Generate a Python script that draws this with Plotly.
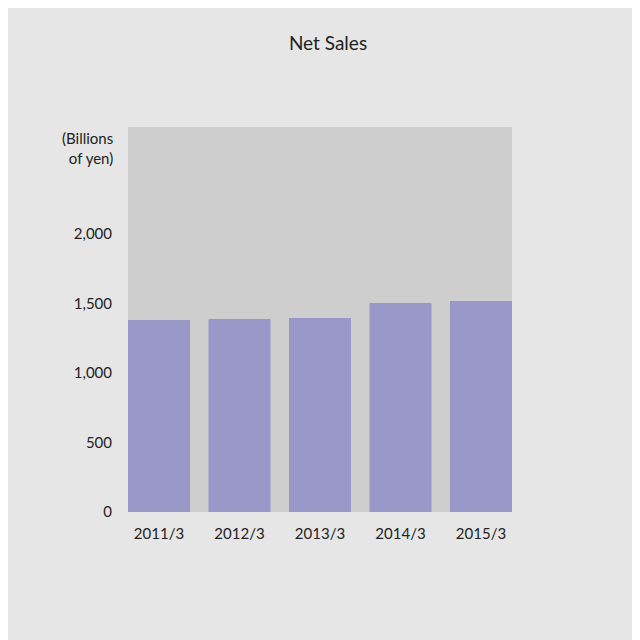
import plotly.graph_objects as go

categories = ["2011/3", "2012/3", "2013/3", "2014/3", "2015/3"]
net_sales = [1381, 1388, 1396, 1504, 1518]
tick_vals = [0, 500, 1000, 1500, 2000]
tick_text = ["0", "500", "1,000", "1,500", "2,000"]

fig = go.Figure(go.Bar(x=list(range(len(categories))), y=net_sales,
                       width=0.77, marker_color="#9a98c8", marker_line_width=0,
                       hoverinfo="skip"))
fig.update_layout(
    width=640, height=640,
    margin=dict(l=120, r=136, t=119, b=136),
    paper_bgcolor="#e6e6e6", plot_bgcolor="#cecece",
    font=dict(family="Lato", size=15, color="#222"),
    title=dict(text="Net Sales", x=0.5, y=0.955, xanchor="center", font=dict(size=19)),
    showlegend=False,
    xaxis=dict(range=[-0.385, 4.385], tickvals=list(range(len(categories))),
               ticktext=categories, showgrid=False, zeroline=False,
               ticks="outside", ticklen=8, tickcolor="rgba(0,0,0,0)"),
    yaxis=dict(range=[0, 2770], tickvals=tick_vals, ticktext=tick_text,
               showgrid=False, zeroline=False, ticks="outside", ticklen=12,
               tickcolor="rgba(0,0,0,0)"),
)
fig.add_annotation(text="(Billions<br>of yen)", xref="paper", yref="paper",
                   x=-0.035, y=1.0, xanchor="right", yanchor="top",
                   align="right", showarrow=False, font=dict(size=15))
fig.write_html("out.html")
